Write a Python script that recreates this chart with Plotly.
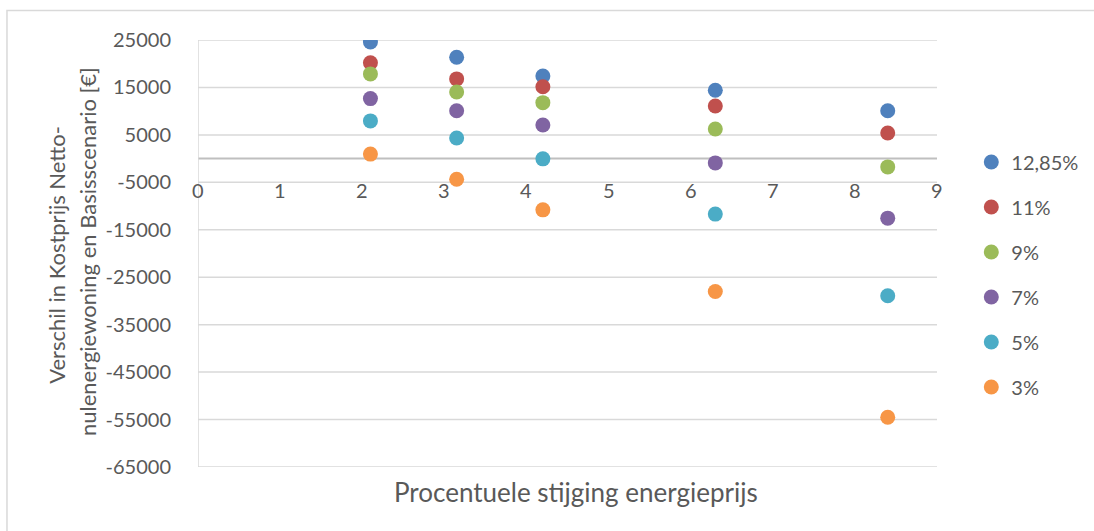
import plotly.graph_objects as go

# Percentage rise in energy price (x) and cost difference in euros (y) per discount scenario
energy_rise = [2.1, 3.15, 4.2, 6.3, 8.4]

series_names = ["12,85%", "11%", "9%", "7%", "5%", "3%"]
diff_1285 = [24600, 21350, 17400, 14400, 10100]
diff_11 = [20200, 16800, 15150, 11100, 5400]
diff_9 = [17850, 14050, 11800, 6250, -1750]
diff_7 = [12650, 10100, 7100, -900, -12550]
diff_5 = [7950, 4350, -50, -11700, -28900]
diff_3 = [950, -4350, -10800, -28000, -54500]
series_values = [diff_1285, diff_11, diff_9, diff_7, diff_5, diff_3]

colors = ["#4F81BD", "#C0504D", "#9BBB59", "#8064A2", "#4BACC6", "#F79646"]

y_ticks = [25000, 15000, 5000, -5000, -15000, -25000, -35000, -45000, -55000, -65000]
x_ticks = list(range(0, 10))

FONT = "Lato"
TXT = "#595959"
GRID = "#d9d9d9"

fig = go.Figure()
for i, (name, vals) in enumerate(zip(series_names, series_values)):
    fig.add_trace(go.Scatter(
        x=energy_rise, y=vals, mode="markers", name=name,
        legendgroup=name,
        marker=dict(size=15, color=colors[i], line=dict(width=0)),
    ))

fig.update_layout(
    width=1094, height=531,
    margin=dict(l=198, r=156, t=40, b=64),
    paper_bgcolor="white", plot_bgcolor="white",
    font=dict(family=FONT, size=20, color=TXT),
    showlegend=True,
    legend=dict(
        x=1.045, xanchor="left", y=0.760, yanchor="top",
        font=dict(family=FONT, size=20, color=TXT),
        tracegroupgap=16,
        bgcolor="rgba(0,0,0,0)",
    ),
    xaxis=dict(
        range=[0, 9], tickvals=x_ticks,
        showgrid=False, zeroline=False, showline=False,
        showticklabels=False, ticks="",
    ),
    yaxis=dict(
        range=[-65000, 25000], tickvals=y_ticks, ticktext=[str(v) for v in y_ticks],
        showgrid=False, zeroline=False, showline=False,
        ticks="outside", ticklen=22, tickcolor="rgba(0,0,0,0)",
        tickfont=dict(family=FONT, size=20, color=TXT),
    ),
)

# Horizontal gridlines at every labelled value
for v in y_ticks:
    fig.add_shape(type="line", xref="paper", yref="y", x0=0, x1=1, y0=v, y1=v,
                  line=dict(color=GRID, width=1.5), layer="below")

# Horizontal axis crossing at zero and vertical axis line at x=0
fig.add_shape(type="line", xref="paper", yref="y", x0=0, x1=1, y0=0, y1=0,
              line=dict(color="#bfbfbf", width=2), layer="below")
fig.add_shape(type="line", xref="x", yref="paper", x0=0, x1=0, y0=0, y1=1,
              line=dict(color=GRID, width=1.5), layer="below")

# Horizontal-axis labels sit just under the zero crossing
for v in x_ticks:
    fig.add_annotation(text=str(v), x=v, y=0, xref="x", yref="y",
                       xanchor="center", yanchor="top", yshift=-17, showarrow=False,
                       font=dict(family=FONT, size=20, color=TXT))

# Outer chart-area border
fig.add_shape(type="rect", xref="paper", yref="paper",
              x0=-0.2585, x1=1.4, y0=1.069, y1=-0.3,
              line=dict(color=GRID, width=1.5), fillcolor="rgba(0,0,0,0)", layer="below")

# Axis titles
fig.add_annotation(text="Procentuele stijging energieprijs", xref="paper", yref="paper",
                   x=0.512, y=-0.0597, xanchor="center", yanchor="middle", showarrow=False,
                   font=dict(family=FONT, size=26, color=TXT))
fig.add_annotation(text="Verschil in Kostprijs Netto-", xref="paper", yref="paper",
                   x=(56 - 198) / 741, y=0.498, xanchor="center", yanchor="middle",
                   textangle=-90, showarrow=False, font=dict(family=FONT, size=22, color=TXT))
fig.add_annotation(text="nulenergiewoning en Basisscenario [€]", xref="paper", yref="paper",
                   x=(87 - 198) / 741, y=0.504, xanchor="center", yanchor="middle",
                   textangle=-90, showarrow=False, font=dict(family=FONT, size=22, color=TXT))

fig.write_html("out.html")
